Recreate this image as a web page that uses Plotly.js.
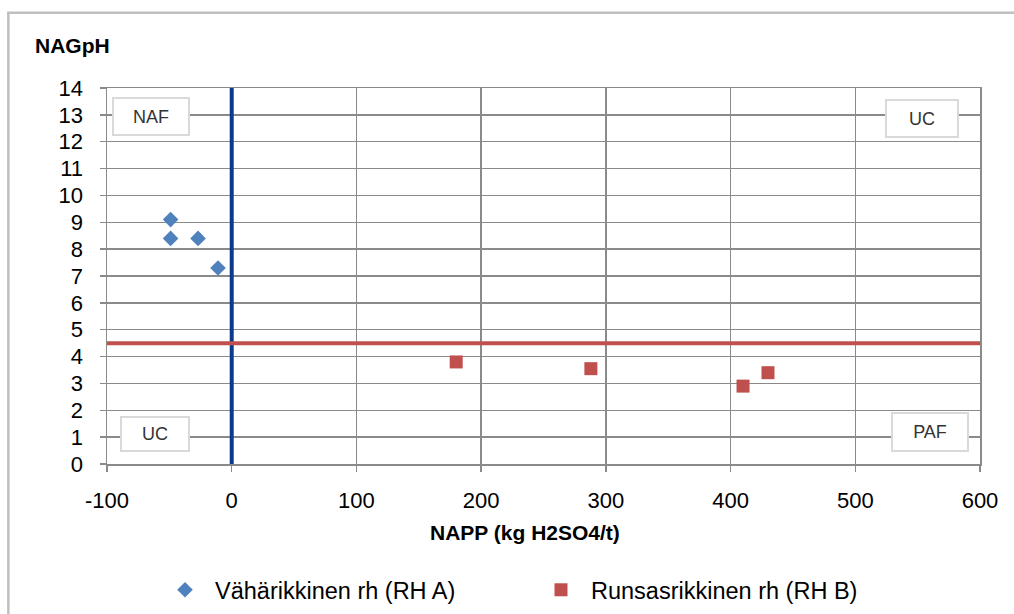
<!DOCTYPE html>
<html>
<head>
<meta charset="utf-8">
<script src="https://cdn.plot.ly/plotly-3.0.1.min.js"></script>
<style>
html,body{margin:0;padding:0;background:#fff;}
#chart{width:1014px;height:614px;}
</style>
</head>
<body>
<div id="chart"></div>
<script>
// Data
const seriesANames = "Vähärikkinen rh (RH A)";
const seriesA_x = [-49, -49, -27, -11];
const seriesA_y = [9.1, 8.4, 8.4, 7.3];
const seriesBNames = "Runsasrikkinen rh (RH B)";
const seriesB_x = [180, 288, 410, 430];
const seriesB_y = [3.8, 3.55, 2.9, 3.4];
const napp_threshold = 0;
const nagph_threshold = 4.5;
const xTicks = [-100, 0, 100, 200, 300, 400, 500, 600];
const yTicks = [0,1,2,3,4,5,6,7,8,9,10,11,12,13,14];
const regionLabels = ["NAF", "UC", "UC", "PAF"];
const xTitle = "NAPP (kg H2SO4/t)";
const yTitle = "NAGpH";

const FONT = "Liberation Sans, Arial, sans-serif";
const GRID = "#8a8a8a";

const traces = [
  {x: seriesA_x, y: seriesA_y, name: seriesANames, type: "scatter", mode: "markers",
   marker: {symbol: "diamond", size: 12, color: "#4f81bd"}},
  {x: seriesB_x, y: seriesB_y, name: seriesBNames, type: "scatter", mode: "markers",
   marker: {symbol: "square", size: 13, color: "#c0504d"}}
];

function box(text, x, y, w, h) {
  return {text: text, xref: "paper", yref: "paper", x: x, y: y, xanchor: "center", yanchor: "middle",
    showarrow: false, width: w, height: h, bgcolor: "#ffffff", bordercolor: "#d9d9d9",
    borderwidth: 2, borderpad: 0, font: {family: FONT, size: 18, color: "#333333"}};
}

const layout = {
  width: 1014, height: 614,
  paper_bgcolor: "#ffffff", plot_bgcolor: "#ffffff",
  margin: {l: 107, r: 34, t: 88, b: 150},
  showlegend: true,
  legend: {orientation: "h", xref: "container", yref: "container", x: 155/1014, y: 1 - 590/614,
    xanchor: "left", yanchor: "middle", itemwidth: 50, entrywidth: 311, entrywidthmode: "pixels",
    font: {family: FONT, size: 23.5, color: "#000000"}},
  xaxis: {range: [-100, 600], tickvals: xTicks, ticktext: xTicks.map(String),
    showgrid: true, gridcolor: GRID, gridwidth: 1.5, zeroline: false,
    showline: true, linecolor: GRID, linewidth: 1.5, mirror: true,
    ticks: "outside", ticklen: 6, tickcolor: GRID, tickwidth: 1.5, ticklabelstandoff: 10,
    tickfont: {family: FONT, size: 22, color: "#000000"},
    fixedrange: true},
  yaxis: {range: [0, 14], tickvals: yTicks, ticktext: yTicks.map(String),
    showgrid: true, gridcolor: GRID, gridwidth: 1.5, zeroline: false,
    showline: true, linecolor: GRID, linewidth: 1.5, mirror: true,
    ticks: "outside", ticklen: 6, tickcolor: GRID, tickwidth: 1.5, ticklabelstandoff: 12,
    tickfont: {family: FONT, size: 22, color: "#000000"},
    fixedrange: true},
  shapes: [
    {type: "line", xref: "x", yref: "paper", x0: napp_threshold, x1: napp_threshold, y0: 0, y1: 1,
     line: {color: "#0b3a8c", width: 4}},
    {type: "line", xref: "paper", yref: "y", x0: 0, x1: 1, y0: nagph_threshold, y1: nagph_threshold,
     line: {color: "#c0504d", width: 4}},
    {type: "rect", xref: "paper", yref: "paper", x0: -0.113, x1: 1.2, y0: 1.2, y1: -0.6,
     line: {color: "#bfbfbf", width: 2.5}, fillcolor: "rgba(0,0,0,0)", layer: "below"}
  ],
  annotations: [
    box(regionLabels[0], 0.0504, 0.925, 74, 35),
    box(regionLabels[1], 0.9336, 0.920, 70, 35),
    box(regionLabels[2], 0.055, 0.081, 66, 32),
    box(regionLabels[3], 0.9427, 0.086, 74, 36),
    {text: "<b>" + yTitle + "</b>", xref: "paper", yref: "paper", x: (33 - 107) / 873, y: (464 - 45) / 376,
     xanchor: "left", yanchor: "middle", showarrow: false,
     font: {family: FONT, size: 21, color: "#000000"}},
    {text: "<b>" + xTitle + "</b>", xref: "paper", yref: "paper", x: (525 - 107) / 873, y: (464 - 532) / 376,
     xanchor: "center", yanchor: "middle", showarrow: false,
     font: {family: FONT, size: 21, color: "#000000"}}
  ]
};

Plotly.newPlot("chart", traces, layout, {displayModeBar: false, staticPlot: true});
</script>
</body>
</html>
